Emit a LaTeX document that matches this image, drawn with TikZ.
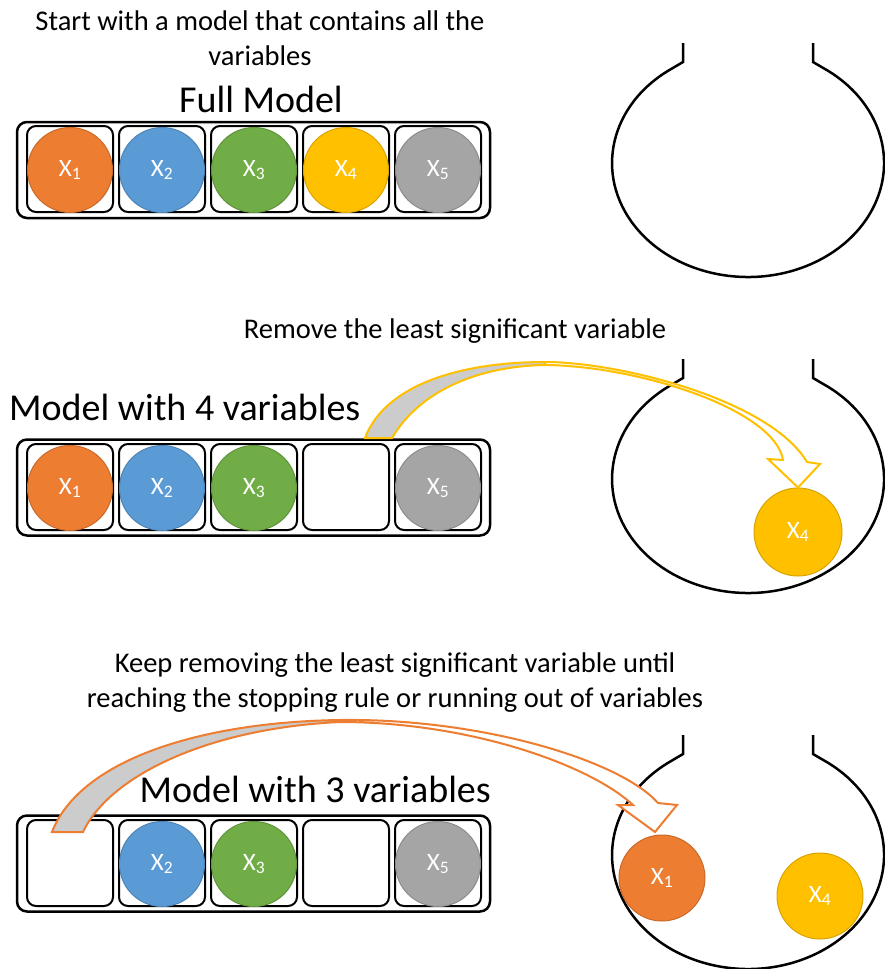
\documentclass[tikz,border=0pt]{standalone}
\usepackage{fontspec}
\setmainfont{Carlito}
\usetikzlibrary{positioning}
\definecolor{xorange}{HTML}{ED7D31}
\definecolor{xblue}{HTML}{5B9BD5}
\definecolor{xgreen}{HTML}{70AD47}
\definecolor{xgold}{HTML}{FFC000}
\definecolor{xgray}{HTML}{A5A5A5}
\tikzset{
	model/.style={draw, line width=2.5pt, rounded corners=10pt, minimum width=473pt, minimum height=96pt},
	cell/.style={draw, line width=2pt, rounded corners=9pt, minimum size=86pt},
	ball/.style={circle, fill=#1, draw=#1!85!black, line width=1pt, minimum size=85pt, inner sep=0pt, text=white, font=\fontsize{25}{28}\selectfont},
	note/.style={font=\fontsize{28.5}{35}\selectfont, align=center, inner sep=0pt},
	title/.style={font=\fontsize{38}{44}\selectfont, inner sep=0pt},
	bag/.style={line width=2.5pt},
	flow/.style={draw=#1, line width=2pt, line join=miter},
}
\newcommand{\drawbag}[1]{%
	\draw[bag, shift={(0,#1)}] (683,43) -- (683,62) -- (672,68.5)
	arc[start angle=236, end angle=-56, x radius=136, y radius=114]
	-- (813,62) -- (813,43);
}

\begin{document}
\begin{tikzpicture}[x=1pt, y=-1pt]
	\useasboundingbox (0,0) rectangle (884,969);
	% texts
	\node[note] (intro) at (260,38) {Start with a model that contains all the\\variables};
	\node[title, anchor=base] (full) at (261,112) {Full Model};
	\node[note, anchor=base] (remove) at (455,338) {Remove the least significant variable};
	\node[title, anchor=base west] (four) at (9,420) {Model with 4 variables};
	\node[note] (keep) at (395,683) {Keep removing the least significant variable until\\reaching the stopping rule or running out of variables};
	\node[title, anchor=base east] (three) at (491,802) {Model with 3 variables};
	% models
	\node[model] (m1) at (253.5,170) {};
	\node[model] (m2) at (253.5,487.5) {};
	\node[model] (m3) at (253.5,863.5) {};
	\foreach \r/\y in {1/169, 2/487, 3/863}
		\foreach \c in {1,...,5}
			\node[cell] (c\r\c) at (70+92*\c-92,\y) {};
	% full model
	\node[ball=xorange] (a1) at (70,170) {X\textsubscript{1}};
	\node[ball=xblue] (a2) at (162,170) {X\textsubscript{2}};
	\node[ball=xgreen] (a3) at (254,170) {X\textsubscript{3}};
	\node[ball=xgold] (a4) at (346,170) {X\textsubscript{4}};
	\node[ball=xgray] (a5) at (438,170) {X\textsubscript{5}};
	% 4 variables
	\node[ball=xorange] (b1) at (70,488) {X\textsubscript{1}};
	\node[ball=xblue] (b2) at (162,488) {X\textsubscript{2}};
	\node[ball=xgreen] (b3) at (254,488) {X\textsubscript{3}};
	\node[ball=xgray] (b5) at (438,488) {X\textsubscript{5}};
	% 3 variables
	\node[ball=xblue] (d2) at (162,864) {X\textsubscript{2}};
	\node[ball=xgreen] (d3) at (254,864) {X\textsubscript{3}};
	\node[ball=xgray] (d5) at (438,864) {X\textsubscript{5}};
	% bags
	\drawbag{0}
	\drawbag{316}
	\drawbag{692}
	\node[ball=xgold, minimum size=88pt] (out4) at (798,532) {X\textsubscript{4}};
	\node[ball=xorange, minimum size=86pt] (last1) at (662,878) {X\textsubscript{1}};
	\node[ball=xgold, minimum size=86pt] (last4) at (820,896) {X\textsubscript{4}};
	% curved arrows
	\draw[flow=xgold, fill=white] (545,362) .. controls (620,362) and (770,400) .. (807,462) -- (820,464) -- (out4.north) -- (768,459) -- (783,460) .. controls (775,410) and (640,366) .. (545,365) -- cycle;
	\draw[flow=xgold, fill=black!20] (365,438) .. controls (385,385) and (460,362) .. (545,362) -- (545,365) .. controls (480,366) and (420,390) .. (392,438) -- cycle;
	\draw[flow=xorange, fill=white] (340,720) .. controls (480,718) and (620,760) .. (658,803) -- (677,805) -- (655,832) -- (618,805) -- (633,805) .. controls (590,765) and (470,722) .. (340,722) -- cycle;
	\draw[flow=xorange, fill=black!20] (52,832) .. controls (80,760) and (200,722) .. (340,720) -- (340,722) .. controls (210,728) and (110,775) .. (83,832) -- cycle;
\end{tikzpicture}
\end{document}
